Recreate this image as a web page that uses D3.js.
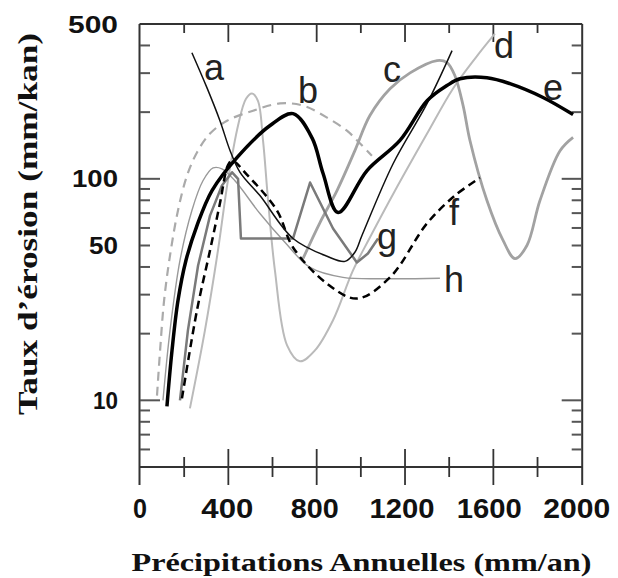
<!DOCTYPE html>
<html><head><meta charset="utf-8">
<script src="https://cdn.jsdelivr.net/npm/d3@7"></script>
<style>body{margin:0;background:#fff}</style>
</head><body>
<svg id="chart" width="618" height="578"></svg>
<script>
// ---- data (precipitation mm/an, erosion mm/kan) ----
const curveA = [[235,371],[303,258],[362,183],[408,134],[453,107],[543,84],[693,53.8],[847,44.7],[928,42.4],[973,46.6],[1005,55.5],[1146,117],[1300,219],[1413,379]];
const curveB = [[77,10.5],[91,16.8],[109,28.2],[136,45.1],[172,72],[213,103.5],[258,131.5],[317,160],[394,183],[512,203],[634,219],[738,214],[847,189],[937,165],[983,149],[1050,127]];
const curveC = [[738,43.6],[815,63.5],[892,88.5],[973,134],[1041,193],[1132,255],[1223,301],[1345,342],[1390,335],[1426,292],[1463,214],[1494,149],[1571,79.8],[1644,52.7],[1698,43.6],[1752,50],[1811,79.8],[1902,134],[1961,154]];
const curveD = [[226,9.2],[294,20.7],[353,47.5],[398,98.2],[444,174],[480,230],[507,243],[534,225],[557,149],[580,79.8],[611,38.5],[666,17.7],[724,15.0],[792,16.8],[874,23.0],[964,38.5],[1041,54.3],[1155,88.5],[1300,160],[1417,255],[1517,349],[1607,452]];
const curveE = [[122,9.4],[145,16.8],[172,28.2],[208,42.8],[258,61.5],[326,88.5],[439,124.7],[589,174],[693,197],[779,153],[829,105.7],[897,70.5],[1028,109],[1177,149],[1300,225],[1390,263.6],[1449,283],[1571,286],[1675,269],[1825,233],[1961,195]];
const curveF = [[190,10.2],[258,25.5],[317,47.5],[362,77.5],[398,115],[417,121],[484,104.5],[620,72],[693,49],[846,33.7],[982,28.8],[1132,35.9],[1299,62.8],[1426,84],[1539,101]];
const curveG = [[181,10],[217,20.7],[263,40.6],[317,68.2],[371,93.3],[417,107],[444,100],[457,53.8],[693,53.8],[770,96.2],[874,59.7],[982,41.9],[1032,46],[1078,53.8]];
const curveH = [[104,10],[136,20.7],[181,42.8],[235,72],[285,98],[331,112],[371,111],[430,98],[543,69.7],[657,51.6],[770,39.8],[919,35.9],[1132,35.4],[1358,35.6]];

const curveNames = ["a","b","c","d","e","f","g","h"];
const xTickValues = [0,200,400,600,800,1000,1200,1400,1600,1800,2000];
const xTickLabels = [0,400,800,1200,1600,2000];
const yMinorTicks = [6,7,8,9,20,30,40,50,60,70,80,90,200,300,400];
const yMajorTicks = [10,100];
const yTickLabels = [10,50,100,500];

// ---- layout / style ----
const svg = d3.select("#chart");
const L = 140, R = 581.7, T = 24, B = 467;
const x = d3.scaleLinear().domain([0,2000]).range([L,R]);
const y = d3.scaleLog().domain([5,500]).range([B,T]);

const smooth = d3.curveCatmullRom.alpha(0.5);
const styles = {
  a:{stroke:"#111",w:1.5,dash:null,curve:smooth},
  b:{stroke:"#aaa",w:2.2,dash:"9,6",curve:smooth},
  c:{stroke:"#a2a2a2",w:2.8,dash:null,curve:smooth},
  d:{stroke:"#bababa",w:2,dash:null,curve:smooth},
  e:{stroke:"#000",w:3.5,dash:null,curve:smooth},
  f:{stroke:"#000",w:2.5,dash:"8,5",curve:smooth},
  g:{stroke:"#7a7a7a",w:2.5,dash:null,curve:d3.curveLinear},
  h:{stroke:"#999",w:1.4,dash:null,curve:smooth}
};
const dataMap = {a:curveA,b:curveB,c:curveC,d:curveD,e:curveE,f:curveF,g:curveG,h:curveH};
const labelPos = {a:[214,80],b:[308,103],c:[392,82],d:[504,58],e:[553,100],f:[454,225],g:[387,249],h:[454,292]};

svg.append("defs").append("clipPath").attr("id","clip")
  .append("rect").attr("x",L).attr("y",T).attr("width",R-L).attr("height",B-T);

const axisColor = "#333";
// frame
svg.append("line").attr("x1",L-0.5).attr("x2",L-0.5).attr("y1",T).attr("y2",485).attr("stroke",axisColor).attr("stroke-width",2);
svg.append("line").attr("x1",R+0.5).attr("x2",R+0.5).attr("y1",T).attr("y2",485).attr("stroke",axisColor).attr("stroke-width",2);
svg.append("line").attr("x1",L-0.5).attr("x2",R+0.5).attr("y1",T).attr("y2",T).attr("stroke",axisColor).attr("stroke-width",2);
svg.append("line").attr("x1",L-0.5).attr("x2",R+0.5).attr("y1",B).attr("y2",B).attr("stroke",axisColor).attr("stroke-width",2);

// x ticks bottom and top
xTickValues.forEach(v=>{
  const major = v % 400 === 0;
  if (v>0 && v<2000) {
    svg.append("line").attr("x1",x(v)).attr("x2",x(v))
      .attr("y1", major? B-18 : B-10).attr("y2", major? B+18 : B+10)
      .attr("stroke",axisColor).attr("stroke-width",1.8);
    svg.append("line").attr("x1",x(v)).attr("x2",x(v))
      .attr("y1",T).attr("y2", major? T+18 : T+9)
      .attr("stroke",axisColor).attr("stroke-width",1.8);
  }
});
// y ticks left and right
yMinorTicks.concat(yMajorTicks).forEach(v=>{
  const len = yMajorTicks.includes(v) ? 20 : 10;
  svg.append("line").attr("x1",L).attr("x2",L+len).attr("y1",y(v)).attr("y2",y(v))
    .attr("stroke","#555").attr("stroke-width",2);
  svg.append("line").attr("x1",R-len).attr("x2",R).attr("y1",y(v)).attr("y2",y(v))
    .attr("stroke","#555").attr("stroke-width",2);
});

// tick labels
const lw = {0:14,400:52,800:48,1200:65,1600:65,2000:67};
xTickLabels.forEach(v=>{
  svg.append("text").attr("x",x(v) - (v/2000)*5).attr("y",518)
    .attr("text-anchor","middle")
    .attr("font-family","Liberation Sans, Arial, sans-serif").attr("font-weight","bold")
    .attr("font-size",27).attr("fill","#111")
    .attr("textLength",lw[v]).attr("lengthAdjust","spacingAndGlyphs")
    .text(v);
});
const ylw = {10:25,50:29,100:46,500:50};
yTickLabels.forEach(v=>{
  svg.append("text").attr("x",118).attr("y",y(v)+8.5)
    .attr("text-anchor","end")
    .attr("font-family","Liberation Sans, Arial, sans-serif").attr("font-weight","bold")
    .attr("font-size",23).attr("fill","#111")
    .attr("textLength",ylw[v]).attr("lengthAdjust","spacingAndGlyphs")
    .text(v);
});

// axis titles
svg.append("text").attr("x",(131+592)/2).attr("y",571).attr("text-anchor","middle")
  .attr("font-family","Liberation Serif, Times New Roman, serif").attr("font-weight","bold")
  .attr("font-size",26).attr("fill","#111")
  .attr("textLength",460).attr("lengthAdjust","spacingAndGlyphs")
  .text("Précipitations Annuelles (mm/an)");
svg.append("text").attr("transform","translate(37,224) rotate(-90)").attr("text-anchor","middle")
  .attr("font-family","Liberation Serif, Times New Roman, serif").attr("font-weight","bold")
  .attr("font-size",27).attr("fill","#111")
  .attr("textLength",382).attr("lengthAdjust","spacingAndGlyphs")
  .text("Taux d\u2019érosion (mm/kan)");

// curves
const g = svg.append("g").attr("clip-path","url(#clip)");
["d","h","b","c","g","f","a","e"].forEach(k=>{
  const s = styles[k];
  const line = d3.line().x(d=>x(d[0])).y(d=>y(d[1])).curve(s.curve);
  g.append("path").datum(dataMap[k]).attr("d",line)
    .attr("fill","none").attr("stroke",s.stroke).attr("stroke-width",s.w)
    .attr("stroke-dasharray",s.dash).attr("stroke-linejoin","round").attr("stroke-linecap","butt");
});

// curve labels
curveNames.forEach(k=>{
  svg.append("text").attr("x",labelPos[k][0]).attr("y",labelPos[k][1])
    .attr("text-anchor","middle")
    .attr("font-family","Liberation Sans, Arial, sans-serif")
    .attr("font-size",36).attr("fill","#222").text(k);
});
</script>
</body></html>
